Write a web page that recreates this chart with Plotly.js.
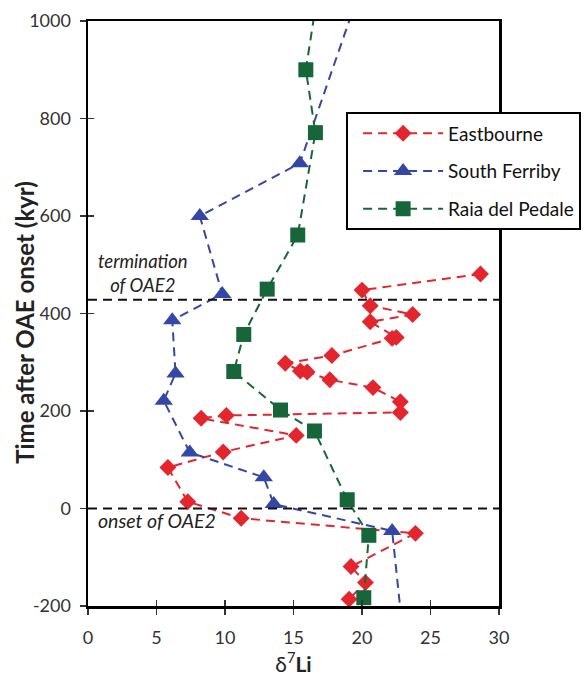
<!DOCTYPE html>
<html>
<head>
<meta charset="utf-8">
<script src="https://cdn.plot.ly/plotly-3.0.1.min.js"></script>
<style>html,body{margin:0;padding:0;background:#fff;}#chart{width:585px;height:677px;}</style>
</head>
<body>
<div id="chart"></div>
<script>
// Eastbourne
var eastLi   = [28.65, 20.0, 20.6, 23.7, 20.6, 22.5, 22.2, 17.8, 14.4, 15.5, 16.0, 17.65, 20.8, 22.8, 22.8, 10.1, 8.26, 15.2, 9.87, 5.83, 7.28, 11.18, 23.9, 19.2, 20.25, 19.06];
var eastAge  = [481, 448, 416, 398, 383, 351, 349, 314, 298, 282, 280, 264, 248, 219, 197, 191, 185, 150, 116, 84, 14, -20, -51, -119, -152, -186];
// South Ferriby
var sfLi     = [20.3, 15.46, 8.16, 9.8, 6.15, 6.39, 5.53, 7.43, 12.83, 13.56, 22.2, 23.0];
var sfAge    = [1100, 708, 600, 440, 386, 277, 221, 115, 64, 9, -46, -260];
// Raia del Pedale
var rpLi     = [17.0, 15.9, 16.6, 15.31, 13.08, 11.37, 10.64, 14.05, 16.53, 18.92, 20.5, 20.13];
var rpAge    = [1100, 900, 771, 561, 450, 357, 281, 202, 159, 18, -55, -183];
// Reference lines
var terminationAge = 428;
var onsetAge = 0;
var xTicks = [0, 5, 10, 15, 20, 25, 30];
var xTickText = ['0', '5', '10', '15', '20', '25', '30'];
var yTicks = [-200, 0, 200, 400, 600, 800, 1000];
var yTickText = ['-200', '0', '200', '400', '600', '800', '1000'];

var FONT = 'Lato, "Open Sans", sans-serif';
var traces = [
  {x: eastLi, y: eastAge, name: 'Eastbourne', legendgroup: 'a', mode: 'lines+markers', type: 'scatter',
   line: {color: '#E3262E', width: 2, dash: '9px,6px'}, marker: {symbol: 'diamond', size: 13, color: '#E3262E'}},
  {x: sfLi, y: sfAge, name: 'South Ferriby', legendgroup: 'b', mode: 'lines+markers', type: 'scatter',
   line: {color: '#3547A6', width: 2, dash: '9px,6px'}, marker: {symbol: 'triangle-up', size: 16, color: '#3547A6'}},
  {x: rpLi, y: rpAge, name: 'Raia del Pedale', legendgroup: 'c', mode: 'lines+markers', type: 'scatter',
   line: {color: '#17663A', width: 2, dash: '9px,6px'}, marker: {symbol: 'square', size: 15, color: '#17663A'}},
  {x: [0, 30], y: [0, 0], xaxis: 'x2', yaxis: 'y2', mode: 'none', showlegend: false, hoverinfo: 'skip'}
];

var layout = {
  width: 585, height: 677,
  margin: {l: 87.5, r: 86, t: 20.5, b: 71, autoexpand: false},
  paper_bgcolor: '#fff', plot_bgcolor: '#fff',
  font: {family: FONT, size: 18, color: '#222'},
  showlegend: true,
  legend: {x: 0.628, y: 0.8437, xanchor: 'left', yanchor: 'top', bgcolor: '#fff',
           bordercolor: '#000', borderwidth: 2, font: {family: FONT, size: 19, color: '#111'},
           itemwidth: 80, tracegroupgap: 10, indentation: 10},
  xaxis: {range: [0, 30], tickvals: xTicks, ticktext: xTickText, ticks: 'outside', ticklen: 6, tickwidth: 1.2, tickcolor: '#333',
          showline: true, linecolor: '#000', linewidth: 2.5, mirror: true, showgrid: false, zeroline: false,
          ticklabelstandoff: 8, automargin: false,
          tickfont: {family: FONT, size: 18, color: '#333'},
          title: {text: 'δ<sup>7</sup><b>Li</b>', font: {family: FONT, size: 21, color: '#222'}, standoff: 8}},
  yaxis: {range: [-200, 1000], tickvals: yTicks, ticktext: yTickText, ticks: 'outside', ticklen: 6, tickwidth: 1.2, tickcolor: '#333',
          showline: true, linecolor: '#000', linewidth: 2.5, mirror: true, showgrid: false, zeroline: false,
          ticklabelstandoff: 5, automargin: false,
          tickfont: {family: FONT, size: 18, color: '#333'}},
  xaxis2: {range: [0, 30], overlaying: 'x', tickvals: xTicks, ticks: 'inside', ticklen: 6, tickwidth: 1.2, tickcolor: '#333',
           showticklabels: false, showgrid: false, zeroline: false, showline: false},
  yaxis2: {range: [-200, 1000], overlaying: 'y', tickvals: yTicks, ticks: 'inside', ticklen: 6, tickwidth: 1.2, tickcolor: '#333',
           showticklabels: false, showgrid: false, zeroline: false, showline: false},
  shapes: [
    {type: 'line', xref: 'paper', x0: 0, x1: 1, yref: 'y', y0: terminationAge, y1: terminationAge,
     line: {color: '#111', width: 2, dash: '9px,6px'}, layer: 'above'},
    {type: 'line', xref: 'paper', x0: 0, x1: 1, yref: 'y', y0: onsetAge, y1: onsetAge,
     line: {color: '#111', width: 2, dash: '9px,6px'}, layer: 'above'}
  ],
  annotations: [
    {x: 0, y: 0.485, xref: 'paper', yref: 'paper', xshift: -63.5, textangle: -90,
     text: '<b>Time after OAE onset (kyr)</b>', showarrow: false,
     font: {family: FONT, size: 24, color: '#222'}, xanchor: 'center', yanchor: 'middle'},
    {x: 4.0, y: 483, xref: 'x', yref: 'y', text: '<i>termination<br>of OAE2</i>', showarrow: false,
     font: {family: FONT, size: 18.5, color: '#222'}, align: 'center'},
    {x: 5.07, y: -25, xref: 'x', yref: 'y', text: '<i>onset of OAE2</i>', showarrow: false,
     font: {family: FONT, size: 19.5, color: '#222'}, align: 'center'}
  ]
};

Plotly.newPlot('chart', traces, layout, {displayModeBar: false, staticPlot: true});
</script>
</body>
</html>
